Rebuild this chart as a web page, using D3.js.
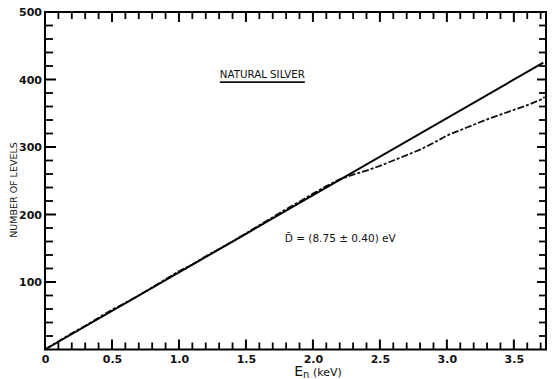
<!DOCTYPE html>
<html>
<head>
<meta charset="utf-8">
<script src="https://cdn.jsdelivr.net/npm/d3@7"></script>
<style>
  body { margin: 0; background: #fff; }
  svg { display: block; }
  .tick text { font-family: "DejaVu Sans", sans-serif; font-weight: bold; font-size: 11px; fill: #111; }
</style>
</head>
<body>
<svg id="chart" width="553" height="379"></svg>
<script>
const energyKeV = [0, 0.1, 0.2, 0.3, 0.4, 0.5, 0.6, 0.7, 0.8, 0.9, 1.0, 1.1, 1.2, 1.3, 1.4, 1.5, 1.6, 1.7, 1.8, 1.9,
  2.0, 2.1, 2.2, 2.3, 2.4, 2.5, 2.6, 2.7, 2.8, 2.9, 3.0, 3.1, 3.2, 3.3, 3.4, 3.5, 3.6, 3.7, 3.73]
const levelCount = [0, 12, 24, 35, 47, 59, 69, 80, 92, 104, 116, 126, 138, 149, 160, 172, 184, 196, 208, 219,
  231, 242, 252, 259, 265, 272, 280, 288, 296, 306, 317, 325, 333, 341, 348, 355, 362, 370, 374]
// straight line N = E / D, D = 8.75 eV
const fitLine = [[0, 0], [3.72, 425]]

const xMajor = [0, 0.5, 1.0, 1.5, 2.0, 2.5, 3.0, 3.5]
const xMinor = d3.range(1, 38).map(i => i / 10).filter(v => Math.round(v * 10) % 5 !== 0)
const yMajor = [100, 200, 300, 400, 500]
const yMinor = d3.range(20, 500, 20).filter(v => v % 100 !== 0)

const svg = d3.select('#chart')
const margin = { top: 12, right: 7, bottom: 29.5, left: 45 }
const innerW = 553 - margin.left - margin.right
const innerH = 379 - margin.top - margin.bottom

const x = d3.scaleLinear().domain([0, 3.74]).range([0, innerW])
const y = d3.scaleLinear().domain([0, 500]).range([innerH, 0])

const root = svg.append('g').attr('transform', `translate(${margin.left},${margin.top})`)

// tick labels from d3 axes (tick marks drawn separately below)
root.append('g').attr('transform', `translate(0,${innerH})`)
  .call(d3.axisBottom(x).tickValues(xMajor).tickSize(0).tickPadding(6).tickFormat(d => d === 0 ? '0' : d3.format('.1f')(d)))
  .call(g => g.select('.domain').remove())
root.append('g')
  .call(d3.axisLeft(y).tickValues(yMajor).tickSize(0).tickPadding(3).tickFormat(d3.format('d')))
  .call(g => g.select('.domain').remove())

// inward tick marks on all four sides
function xTicks(vals, len, cls) {
  const g = root.append('g').attr('stroke', '#000').attr('stroke-width', cls === 'maj' ? 2 : 1.8)
  g.selectAll('line.b').data(vals).join('line').attr('class', 'b')
    .attr('x1', d => x(d)).attr('x2', d => x(d)).attr('y1', innerH).attr('y2', innerH - len)
  g.selectAll('line.t').data(vals.filter(d => d > 0)).join('line').attr('class', 't')
    .attr('x1', d => x(d)).attr('x2', d => x(d)).attr('y1', 0).attr('y2', len)
}
function yTicks(vals, lenL, lenR, cls) {
  const g = root.append('g').attr('stroke', '#000').attr('stroke-width', cls === 'maj' ? 2 : 1.8)
  g.selectAll('line.l').data(vals).join('line').attr('class', 'l')
    .attr('y1', d => y(d)).attr('y2', d => y(d)).attr('x1', 0).attr('x2', lenL)
  g.selectAll('line.r').data(vals.filter(d => d < 500)).join('line').attr('class', 'r')
    .attr('y1', d => y(d)).attr('y2', d => y(d)).attr('x1', innerW).attr('x2', innerW - lenR)
}
xTicks(xMajor, 10, 'maj')
xTicks(xMinor, 7, 'min')
yTicks(yMajor, 11, 9, 'maj')
yTicks(yMinor, 8, 7, 'min')

root.append('rect')
  .attr('width', innerW).attr('height', innerH)
  .attr('fill', 'none').attr('stroke', '#000').attr('stroke-width', 2)

const line = d3.line().x(d => x(d[0])).y(d => y(d[1]))

// observed staircase, dashed
root.append('path')
  .datum(energyKeV.map((e, i) => [e, levelCount[i]]))
  .attr('fill', 'none').attr('stroke', '#111').attr('stroke-width', 1.8)
  .attr('stroke-dasharray', '7,2,3,2')
  .attr('d', line)

// fitted straight line
root.append('path')
  .datum(fitLine)
  .attr('fill', 'none').attr('stroke', '#000').attr('stroke-width', 2)
  .attr('d', line)

// annotations
root.append('text')
  .attr('x', x(1.305)).attr('y', y(402))
  .attr('font-family', 'DejaVu Sans, sans-serif').attr('font-size', 11)
  .attr('fill', '#111').attr('textLength', 85).attr('lengthAdjust', 'spacingAndGlyphs')
  .text('NATURAL SILVER')
root.append('line')
  .attr('x1', x(1.305)).attr('x2', x(1.305) + 85)
  .attr('y1', y(402) + 4).attr('y2', y(402) + 4)
  .attr('stroke', '#111').attr('stroke-width', 1.8)

root.append('text')
  .attr('x', x(1.79)).attr('y', y(160))
  .attr('font-family', 'DejaVu Sans, sans-serif').attr('font-size', 10.5)
  .attr('fill', '#111')
  .text('D\u0304 = (8.75 \u00b1 0.40) eV')

// axis titles
const xt = svg.append('text')
  .attr('x', 318).attr('y', 376)
  .attr('text-anchor', 'middle')
  .attr('font-family', 'DejaVu Sans, sans-serif').attr('fill', '#111')
xt.append('tspan').attr('font-size', 14).text('E')
xt.append('tspan').attr('font-size', 10).attr('dy', 2).text('n')
xt.append('tspan').attr('font-size', 11).attr('dy', -2).text('  (keV)')

svg.append('text')
  .attr('transform', 'translate(17,190) rotate(-90)')
  .attr('text-anchor', 'middle')
  .attr('font-family', 'DejaVu Sans, sans-serif').attr('font-size', 9.5).attr('fill', '#111')
  .text('NUMBER OF LEVELS')
</script>
</body>
</html>
